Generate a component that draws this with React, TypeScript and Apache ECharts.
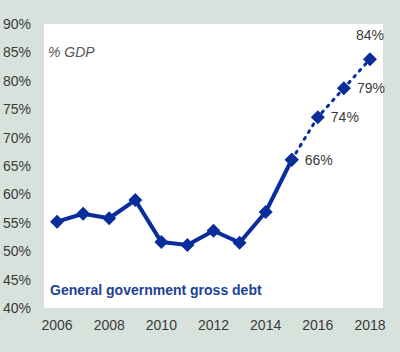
import React, { useEffect, useRef } from "react";
import * as echarts from "echarts";

const years = ["2006","2007","2008","2009","2010","2011","2012","2013","2014","2015","2016","2017","2018"];
const actual = [55.2, 56.6, 55.8, 59.0, 51.6, 51.1, 53.6, 51.5, 56.9, 66.1, null, null, null];
const projected = [null, null, null, null, null, null, null, null, null, 66.1, 73.6, 78.7, 83.8];
const projLabels = ["", "", "", "", "", "", "", "", "", "66%", "74%", "79%", "84%"];

const BLUE = "#0a2d9c";

export default function App() {
  const ref = useRef<HTMLDivElement>(null);
  useEffect(() => {
    const chart = echarts.init(ref.current!, null, { renderer: "svg" });
    chart.setOption({
      animation: false,
      backgroundColor: "#d8e2dd",
      textStyle: { fontFamily: "Liberation Sans, Arial, sans-serif" },
      grid: { left: 43, right: 17, top: 24, bottom: 44, show: true, backgroundColor: "#ffffff", borderWidth: 0 },
      xAxis: {
        type: "category",
        data: years,
        boundaryGap: true,
        axisLine: { show: false },
        axisTick: { show: false },
        axisLabel: { interval: 1, color: "#3a3a3a", fontSize: 14, margin: 10 },
      },
      yAxis: {
        type: "value",
        min: 40,
        max: 90,
        interval: 5,
        splitLine: { show: false },
        axisLine: { show: false },
        axisTick: { show: false },
        axisLabel: { formatter: "{value}%", color: "#3a3a3a", fontSize: 14, margin: 13 },
      },
      graphic: [
        { type: "text", left: 48, top: 45, style: { text: "% GDP", font: "italic 14px Liberation Sans, Arial, sans-serif", fill: "#555" } },
        { type: "text", left: 50, top: 283, style: { text: "General government gross debt", font: "bold 14px Liberation Sans, Arial, sans-serif", fill: "#213f95" } },
      ],
      series: [
        {
          type: "line",
          data: actual,
          connectNulls: false,
          symbol: "diamond",
          symbolSize: 14,
          showAllSymbol: true,
          lineStyle: { color: BLUE, width: 4 },
          itemStyle: { color: BLUE },
          z: 3,
        },
        {
          type: "line",
          data: projected.map((v, i) => ({
            value: v,
            label: {
              show: v !== null,
              formatter: projLabels[i],
              position: i === 12 ? "top" : "right",
              distance: i === 12 ? 10 : 6,
              color: "#3a3a3a",
              fontSize: 14,
            },
          })),
          symbol: "diamond",
          symbolSize: 14,
          showAllSymbol: true,
          lineStyle: { color: BLUE, width: 3, type: [2, 6], cap: "round" },
          itemStyle: { color: BLUE },
          z: 2,
        },
      ],
    });
    return () => chart.dispose();
  }, []);
  return <div ref={ref} style={{ position: "absolute", left: 0, top: 0, width: 400, height: 352 }} />;
}
